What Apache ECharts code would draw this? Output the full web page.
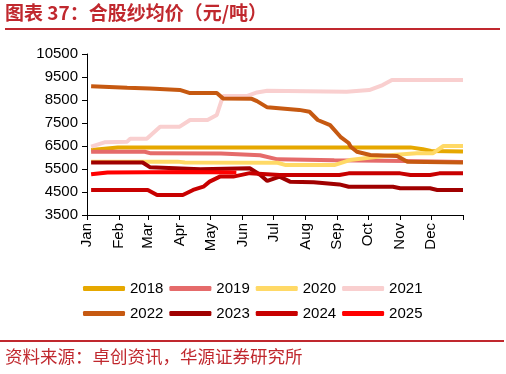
<!DOCTYPE html>
<html>
<head>
<meta charset="utf-8">
<script src="https://cdn.jsdelivr.net/npm/echarts@6/dist/echarts.min.js"></script>
<style>html,body{margin:0;padding:0;background:#fff}#c{width:506px;height:374px}</style>
</head>
<body>
<div id="c"></div>
<script>
// ---- data (day of year, value in 元/吨) ----
const months = ['Jan','Feb','Mar','Apr','May','Jun','Jul','Aug','Sep','Oct','Nov','Dec'];
const monthStarts = [0,31,59,90,120,151,181,212,243,273,304,334];
const yTicks = [3500,4500,5500,6500,7500,8500,9500,10500];

const days2018 = [4,30,314,326,334,365];
const vals2018 = [6330,6430,6440,6360,6280,6260];

const days2019 = [4,56,62,130,168,185,240,310,365];
const vals2019 = [6250,6250,6180,6170,6100,5920,5880,5850,5800];

const days2020 = [4,88,95,185,193,240,255,297,320,336,346,365];
const vals2020 = [5820,5820,5780,5770,5670,5670,5890,6110,6180,6190,6500,6500];

const days2021 = [4,17,39,42,58,71,90,100,117,126,132,155,165,175,252,274,287,296,365];
const vals2021 = [6470,6660,6690,6820,6820,7340,7340,7630,7630,7850,8670,8670,8830,8900,8860,8930,9150,9370,9370];

const days2022 = [4,39,61,90,100,126,132,160,165,175,206,216,224,236,246,254,256,262,275,301,311,365];
const vals2022 = [9100,9030,9000,8940,8800,8800,8570,8550,8450,8180,8070,7990,7630,7410,6900,6630,6470,6250,6110,6070,5820,5780];

const days2023 = [4,54,61,110,158,168,175,187,197,220,245,254,297,304,333,340,365];
const vals2023 = [5780,5780,5580,5490,5530,5250,4980,5170,4950,4920,4830,4730,4730,4660,4660,4590,4590];

const days2024 = [4,59,68,93,103,113,119,129,142,158,187,245,254,304,314,333,342,365];
const vals2024 = [4590,4590,4370,4370,4590,4730,4950,5170,5170,5320,5240,5240,5310,5310,5240,5240,5310,5310];

const days2025 = [4,20,60,100,145];
const vals2025 = [5270,5350,5360,5370,5350];

const seriesDefs = [
  ['2018', days2018, vals2018, '#E6A800'],
  ['2019', days2019, vals2019, '#E56B6B'],
  ['2020', days2020, vals2020, '#FFD966'],
  ['2021', days2021, vals2021, '#F9CFCF'],
  ['2022', days2022, vals2022, '#C65911'],
  ['2023', days2023, vals2023, '#A00000'],
  ['2024', days2024, vals2024, '#C80000'],
  ['2025', days2025, vals2025, '#FF0000']
];

const chart = echarts.init(document.getElementById('c'), null, {renderer:'canvas'});
const font = 'Arial, "Liberation Sans", sans-serif';
const red = '#C0282E';

chart.setOption({
  animation: false,
  grid: {left: 87, right: 43, top: 54, bottom: 159, containLabel: false},
  xAxis: {
    type: 'value', min: 0, max: 365,
    splitLine: {show: false},
    axisLine: {lineStyle: {color: '#000', width: 1}},
    axisTick: {show: true, length: 5, lineStyle: {color: '#000'}, customValues: monthStarts.concat([365])},
    axisLabel: {
      customValues: monthStarts, rotate: 90, margin: 8,
      color: '#000', fontSize: 15, fontFamily: font,
      formatter: v => months[monthStarts.indexOf(v)]
    }
  },
  yAxis: {
    type: 'value', min: 3500, max: 10500,
    splitLine: {show: false},
    axisLine: {show: true, lineStyle: {color: '#000', width: 1}},
    axisTick: {show: true, length: 5, lineStyle: {color: '#000'}, customValues: yTicks},
    axisLabel: {customValues: yTicks, color: '#000', fontSize: 15, fontFamily: font, margin: 9,
      formatter: v => String(v)}
  },
  legend: [
    {data: ['2018','2019','2020','2021'], left: 83, top: 281, padding: 0, itemWidth: 42, itemHeight: 5, itemGap: 6, icon: 'roundRect',
     textStyle: {fontSize: 15, color: '#000', fontFamily: font}},
    {data: ['2022','2023','2024','2025'], left: 83, top: 306, padding: 0, itemWidth: 42, itemHeight: 5, itemGap: 6, icon: 'roundRect',
     textStyle: {fontSize: 15, color: '#000', fontFamily: font}}
  ],
  series: seriesDefs.map(([name, d, v, color]) => ({
    name, type: 'line', showSymbol: false, symbol: 'none',
    data: d.map((x, i) => [x, v[i]]),
    lineStyle: {width: 4, color}, itemStyle: {color}
  })),
  graphic: [
    {type: 'text', left: 5, top: 3, style: {text: '图表 37：合股纱均价（元/吨）', fill: red, font: 'bold 19px "Noto Sans CJK SC", sans-serif'}},
    {type: 'rect', shape: {x: 5, y: 28, width: 495, height: 2}, style: {fill: red}},
    {type: 'rect', shape: {x: 0, y: 340, width: 504, height: 2}, style: {fill: red}},
    {type: 'text', left: 5, top: 348, style: {text: '资料来源：卓创资讯，华源证券研究所', fill: red, font: '17.5px "Noto Sans CJK SC", sans-serif'}}
  ]
});
</script>
</body>
</html>
